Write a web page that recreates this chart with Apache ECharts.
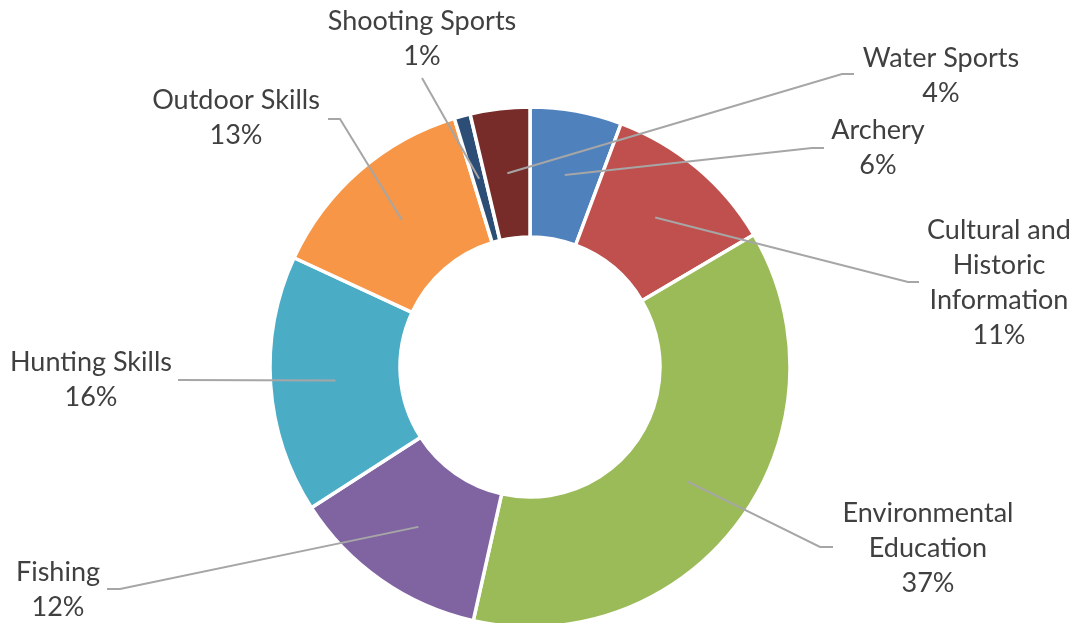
<!DOCTYPE html>
<html>
<head>
<meta charset="utf-8">
<script src="https://cdn.jsdelivr.net/npm/echarts@6/dist/echarts.min.js"></script>
<style>
  html, body { margin: 0; padding: 0; background: #ffffff; }
  #chart { width: 1078px; height: 623px; }
</style>
</head>
<body>
<div id="chart"></div>
<script>
// ---- data ----
var categories = ['Archery', 'Cultural and\nHistoric\nInformation', 'Environmental\nEducation', 'Fishing', 'Hunting Skills', 'Outdoor Skills', 'Shooting Sports', 'Water Sports'];
var values = [5.7, 10.8, 37.0, 12.4, 16.0, 13.4, 1.0, 3.7];
var colors = ['#4F81BD', '#C0504D', '#9BBB59', '#8064A2', '#4BACC6', '#F79646', '#2C4D75', '#772C2A'];

// ---- label placement (centre of text block, end of leader line) ----
var labelPos = [[878, 148], [999, 283], [928, 548], [58, 590], [91, 380], [236, 118], [422, 39], [941, 76]];
var lineEnd = [[824, 148], [919, 282], [833, 547], [107, 589], [178, 380], [328, 119], [422, 78], [854, 74]];
var bendLen = [12, 11, 13, 13, 0, 12, 0, 12];

var chart = echarts.init(document.getElementById('chart'), null, { renderer: 'canvas' });

var ringData = categories.map(function (c, i) {
  return { name: c, value: values[i], itemStyle: { color: colors[i] } };
});
var labelData = categories.map(function (c, i) {
  return { name: c, value: values[i] };
});

var common = {
  type: 'pie',
  center: [530, 367],
  radius: [130, 260],
  startAngle: 90,
  clockwise: true,
  avoidLabelOverlap: false,
  emphasis: { disabled: true },
  silent: true
};

chart.setOption({
  animation: false,
  backgroundColor: '#ffffff',
  series: [
    Object.assign({}, common, {
      z: 2,
      data: ringData,
      itemStyle: { borderColor: '#ffffff', borderWidth: 3.5 },
      label: { show: false },
      labelLine: { show: false }
    }),
    Object.assign({}, common, {
      z: 5,
      data: labelData,
      itemStyle: { color: 'rgba(0,0,0,0)', borderWidth: 0 },
      label: {
        show: true,
        position: 'outside',
        formatter: function (p) { return p.name + '\n' + Math.round(p.percent) + '%'; },
        fontFamily: 'Lato, "Open Sans", sans-serif',
        fontSize: 27,
        lineHeight: 35,
        color: '#404040',
        align: 'center'
      },
      labelLine: {
        show: true,
        showAbove: true,
        length: 20,
        length2: 10,
        lineStyle: { color: '#A6A6A6', width: 2 }
      },
      labelLayout: function (p) {
        var i = p.dataIndex;
        var start;
        try {
          var lay = chart.getModel().getSeriesByIndex(p.seriesIndex).getData().getItemLayout(i);
          var mid = (lay.startAngle + lay.endAngle) / 2;
          var rr = (lay.r + lay.r0) / 2;
          start = [lay.cx + rr * Math.cos(mid), lay.cy + rr * Math.sin(mid)];
        } catch (e) {
          start = p.labelLinePoints ? p.labelLinePoints[0] : lineEnd[i];
        }
        var end = lineEnd[i];
        var dir = end[0] > start[0] ? 1 : -1;
        var bend = [end[0] - dir * bendLen[i], end[1]];
        return {
          x: labelPos[i][0],
          y: labelPos[i][1],
          align: 'center',
          verticalAlign: 'middle',
          labelLinePoints: [start, bend, end]
        };
      }
    })
  ]
});
</script>
</body>
</html>
